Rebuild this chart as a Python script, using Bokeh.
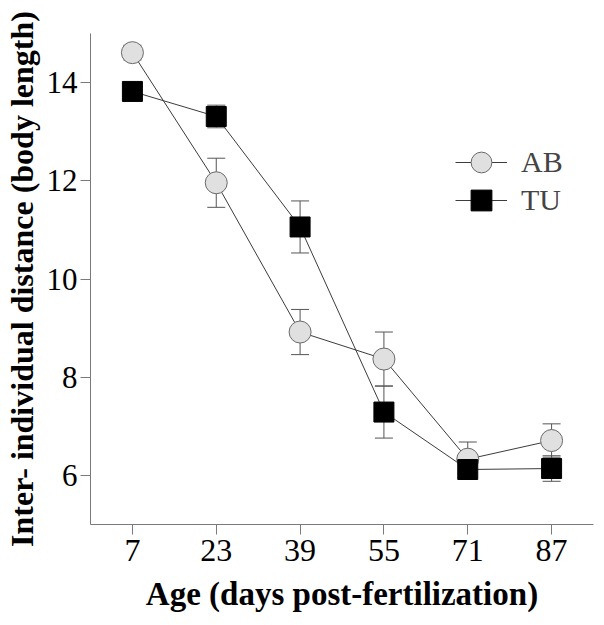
from bokeh.plotting import figure
from bokeh.models import (ColumnDataSource, FactorRange, Range1d, FixedTicker,
                          Whisker, TeeHead, Legend, LegendItem)
from bokeh.embed import file_html
from bokeh.resources import INLINE

# ---- data ----
ages = ["7", "23", "39", "55", "71", "87"]
ab_mean = [14.61, 11.96, 8.92, 8.37, 6.33, 6.71]
ab_se = [0.15, 0.50, 0.46, 0.55, 0.35, 0.34]
tu_mean = [13.82, 13.31, 11.06, 7.29, 6.12, 6.14]
tu_se = [0.10, 0.23, 0.53, 0.53, 0.20, 0.26]
y_ticks = [6, 8, 10, 12, 14]

src_ab = ColumnDataSource(dict(age=ages, mean=ab_mean,
                               lower=[m - e for m, e in zip(ab_mean, ab_se)],
                               upper=[m + e for m, e in zip(ab_mean, ab_se)]))
src_tu = ColumnDataSource(dict(age=ages, mean=tu_mean,
                               lower=[m - e for m, e in zip(tu_mean, tu_se)],
                               upper=[m + e for m, e in zip(tu_mean, tu_se)]))

SERIF = "Liberation Serif"
AXIS_COL = "#7a7a7a"
ERR_COL = "#555555"
LINE_COL = "#3c3c3c"

p = figure(width=596, height=617,
           x_range=FactorRange(factors=ages, range_padding=0),
           y_range=Range1d(5, 15),
           output_backend="svg", toolbar_location=None,
           min_border_left=90, min_border_right=3,
           min_border_top=33, min_border_bottom=93)
p.outline_line_color = None
p.xgrid.visible = False
p.ygrid.visible = False

# error bars
for src in (src_ab, src_tu):
    w = Whisker(source=src, base="age", lower="lower", upper="upper",
                dimension="height", line_color=ERR_COL, line_width=1,
                upper_head=TeeHead(size=18, line_color=ERR_COL, line_width=1),
                lower_head=TeeHead(size=18, line_color=ERR_COL, line_width=1),
                level="underlay")
    p.add_layout(w)

line_ab = p.line("age", "mean", source=src_ab, line_color=LINE_COL, line_width=1)
line_tu = p.line("age", "mean", source=src_tu, line_color=LINE_COL, line_width=1)
sc_ab = p.scatter("age", "mean", source=src_ab, marker="circle", size=22,
                  fill_color="#e0e0e0", line_color="#6a6a6a", line_width=1)
sc_tu = p.scatter("age", "mean", source=src_tu, marker="square", size=20,
                  fill_color="black", line_color="black", line_width=1)

# axes
for ax in (p.xaxis[0], p.yaxis[0]):
    ax.axis_line_color = AXIS_COL
    ax.major_tick_line_color = AXIS_COL
    ax.minor_tick_line_color = None
    ax.major_tick_out = 10
    ax.major_tick_in = 0
    ax.major_label_text_font = SERIF
    ax.major_label_text_color = "black"
    ax.axis_label_text_font = SERIF
    ax.axis_label_text_font_style = "bold"
    ax.axis_label_text_color = "black"

p.yaxis.ticker = FixedTicker(ticks=y_ticks)
p.yaxis.major_label_text_font_size = "31px"
p.yaxis.major_label_standoff = 3
p.yaxis.axis_label = "Inter- individual distance (body length)"
p.yaxis.axis_label_text_font_size = "32px"
p.yaxis.axis_label_standoff = 4

p.xaxis.major_label_text_font_size = "32px"
p.xaxis.major_label_standoff = 5
p.xaxis.axis_label = "Age (days post-fertilization)"
p.xaxis.axis_label_text_font_size = "33px"
p.xaxis.axis_label_standoff = 12

# legends (one per series, placed in screen units inside the frame)
def make_legend(label, renderers, loc):
    return Legend(items=[LegendItem(label=label, renderers=renderers)],
                  location=loc, glyph_width=52, glyph_height=52,
                  label_text_font=SERIF, label_text_font_size="30px",
                  label_standoff=14, padding=0, margin=0, spacing=0,
                  border_line_color=None, background_fill_alpha=0)

p.add_layout(make_legend("AB", [line_ab, sc_ab], (365, 336)))
p.add_layout(make_legend("TU", [line_tu, sc_tu], (365, 298)))

open("out.html", "w").write(file_html(p, INLINE))
